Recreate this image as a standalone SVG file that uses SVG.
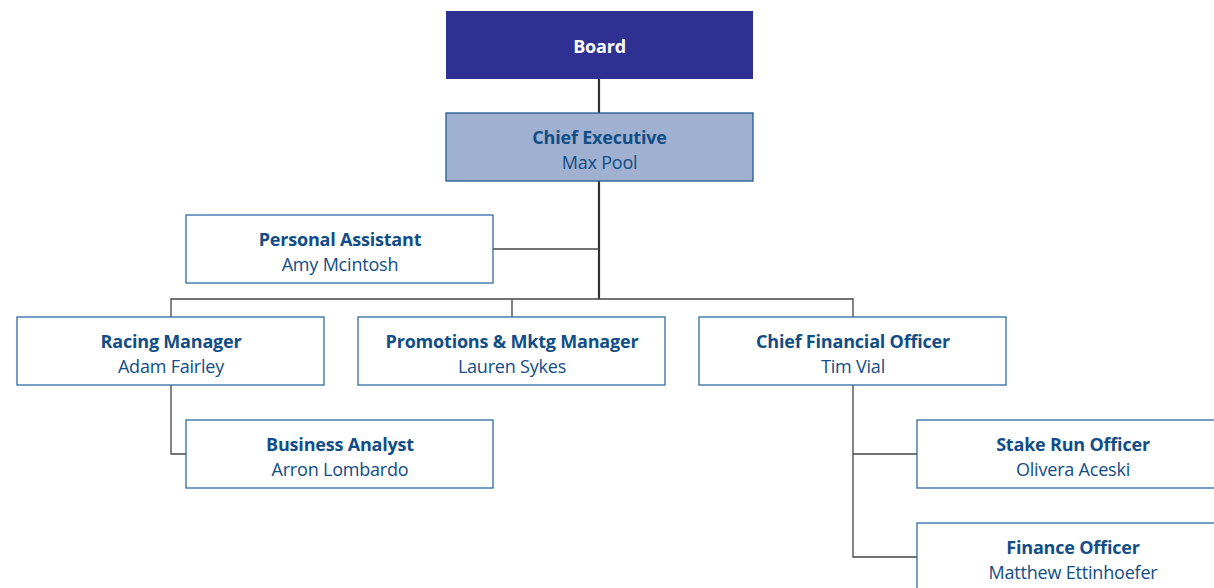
<svg xmlns="http://www.w3.org/2000/svg" width="1214" height="588" viewBox="0 0 1214 588">
<style>
.box{fill:#ffffff;stroke:#2f6aa3;stroke-width:1.3}
.t{font-family:"Open Sans","Liberation Sans",sans-serif;font-size:18px;font-weight:bold;fill:#114d86;text-anchor:middle;letter-spacing:-0.2px}
.n{font-family:"Open Sans","Liberation Sans",sans-serif;font-size:18px;fill:#114d86;text-anchor:middle;letter-spacing:-0.2px}
.c{fill:none;stroke:#444;stroke-width:1.3}
.cb{fill:none;stroke:#333;stroke-width:2.2}
</style>
<rect width="1214" height="588" fill="#ffffff"/>
<g id="connectors">
<path class="cb" d="M599 79V113M599 181V299"/>
<path class="c" d="M493 249H599M171 317V299H853V317M512 299V317M171 385V454H186M853 385V557H917M853 454H917"/>
</g>
<g id="board">
<rect x="446" y="11" width="307" height="68" fill="#2f3192"/>
<text x="599.5" y="53" class="t" style="fill:#ffffff">Board</text>
</g>
<g id="chief-executive">
<rect x="446" y="113" width="307" height="68" fill="#a0b0d0" stroke="#1f5b8f" stroke-width="1.3"/>
<text x="599.5" y="144" class="t">Chief Executive</text>
<text x="599.5" y="169" class="n">Max Pool</text>
</g>
<g id="personal-assistant">
<rect class="box" x="186" y="215" width="307" height="68"/>
<text x="340" y="246" class="t">Personal Assistant</text>
<text x="340" y="271" class="n">Amy Mcintosh</text>
</g>
<g id="racing-manager">
<rect class="box" x="17" y="317" width="307" height="68"/>
<text x="171" y="348" class="t">Racing Manager</text>
<text x="171" y="373" class="n">Adam Fairley</text>
</g>
<g id="promotions">
<rect class="box" x="358" y="317" width="307" height="68"/>
<text x="512" y="348" class="t">Promotions &amp; Mktg Manager</text>
<text x="512" y="373" class="n">Lauren Sykes</text>
</g>
<g id="cfo">
<rect class="box" x="699" y="317" width="307" height="68"/>
<text x="853" y="348" class="t">Chief Financial Officer</text>
<text x="853" y="373" class="n">Tim Vial</text>
</g>
<g id="business-analyst">
<rect class="box" x="186" y="420" width="307" height="68"/>
<text x="340" y="451" class="t">Business Analyst</text>
<text x="340" y="476" class="n">Arron Lombardo</text>
</g>
<g id="stake-run-officer">
<rect class="box" x="917" y="420" width="307" height="68"/>
<text x="1073" y="451" class="t">Stake Run Officer</text>
<text x="1073" y="476" class="n">Olivera Aceski</text>
</g>
<g id="finance-officer">
<rect class="box" x="917" y="523" width="307" height="68"/>
<text x="1073" y="554" class="t">Finance Officer</text>
<text x="1073" y="579" class="n">Matthew Ettinhoefer</text>
</g>
</svg>
